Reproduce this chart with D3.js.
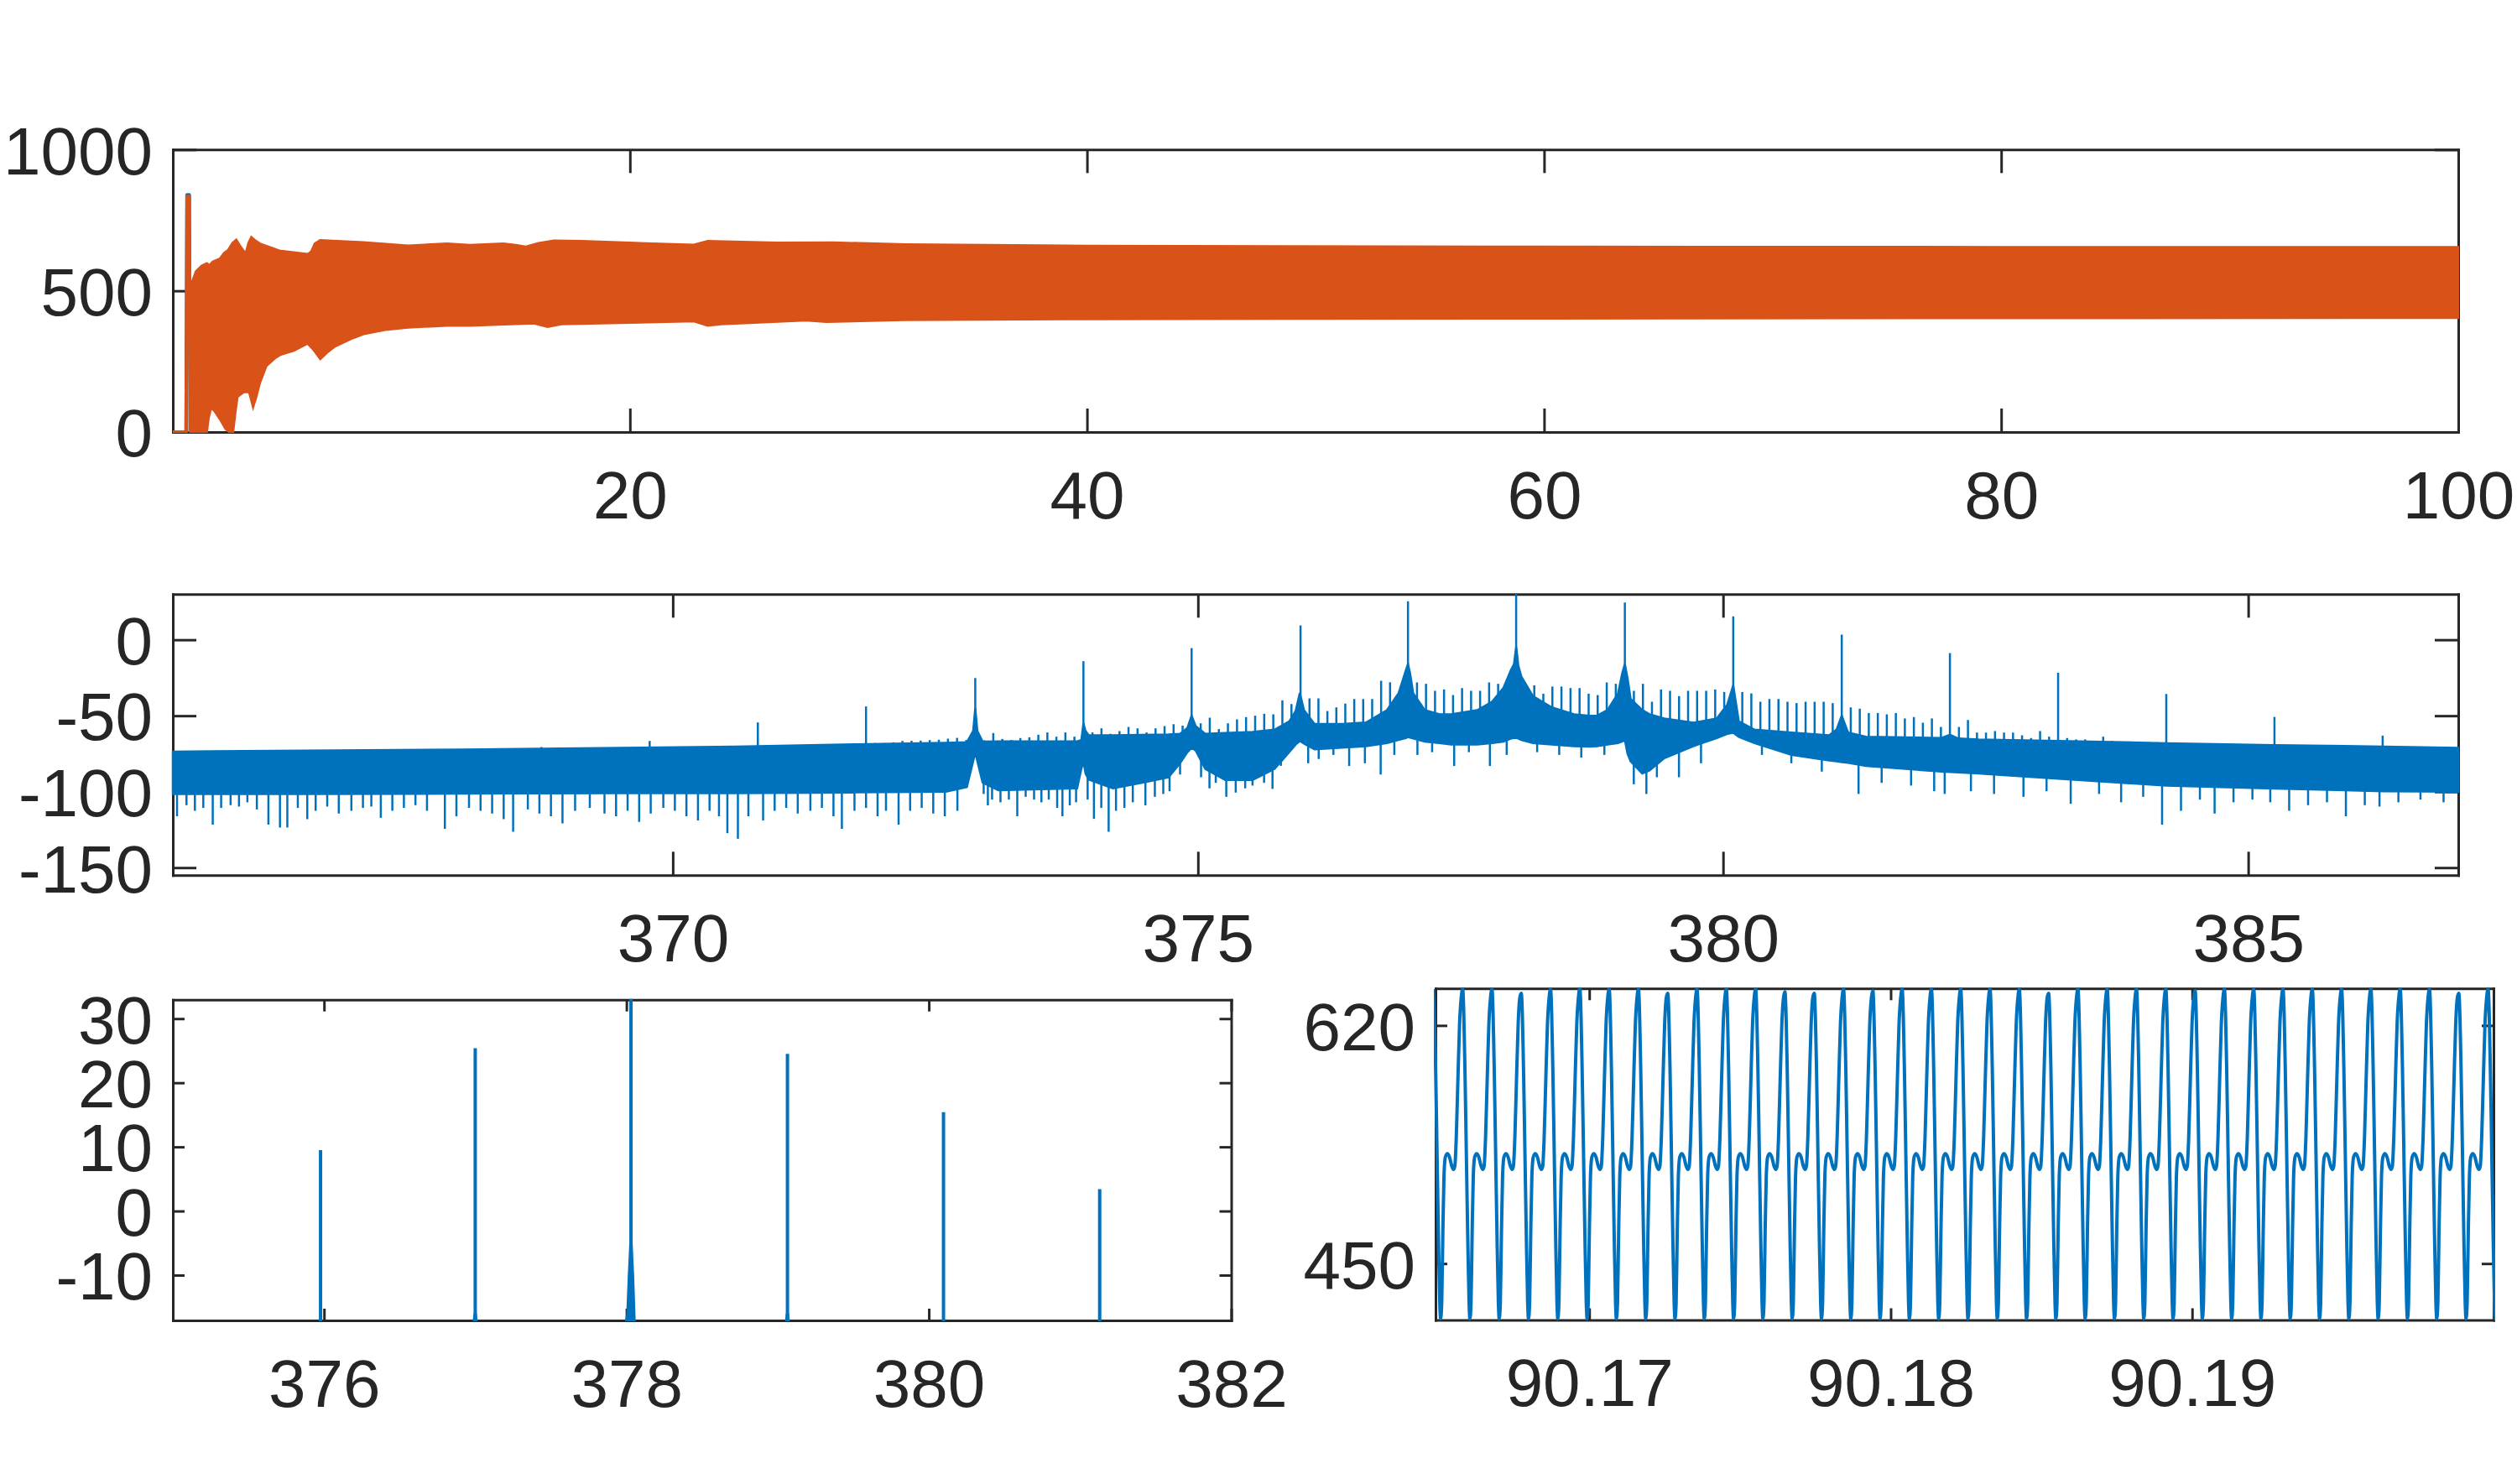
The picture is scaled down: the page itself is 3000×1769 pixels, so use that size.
<!DOCTYPE html>
<html>
<head>
<meta charset="utf-8">
<script src="https://cdn.jsdelivr.net/npm/d3@7"></script>
<style>
  body { margin: 0; background: #fff; }
  svg { display: block; }
</style>
</head>
<body>
<svg id="chart" width="3000" height="1769"></svg>
<script>
/*
**
** DATA
**
*/
const BLUE = "#0072BD";
const ORANGE = "#D95319";
const INK = "#262626";

// Panel 1 - long time record, two overlapping series
const p1XTicks = [20, 40, 60, 80, 100];
const p1YTicks = [0, 500, 1000];
const p1SpikeX = [0, 0.58, 0.62, 0.72, 0.76];
const p1SpikeBlue = [0, 0, 840, 840, 0];
const p1SpikeOrange = [0, 0, 834, 834, 0];
// envelope of the dense orange oscillation
const p1UpperX = [0.76, 0.82, 1.0, 1.25, 1.49, 1.6, 1.74, 2.04, 2.23, 2.41, 2.6, 2.78, 2.95, 3.18, 3.3, 3.43, 3.6, 3.82, 4.67, 5.9, 6.05, 6.2, 6.44, 8.34, 10.3, 12.0, 13.0, 14.46, 15.0, 15.44, 16.0, 16.67, 17.9, 19.97, 22.79, 23.4, 26.46, 28.9, 32.1, 40, 60, 80, 100];
const p1Upper = [480, 530, 569, 589, 599, 592, 604, 614, 634, 645, 670, 682, 660, 634, 670, 692, 680, 668, 643, 631, 640, 668, 680, 673, 661, 668, 663, 668, 663, 657, 670, 679, 677, 671, 664, 677, 671, 672, 665, 660, 657, 656, 655.5];
const p1LowerX = [0.76, 1.5, 1.58, 1.68, 1.8, 2.05, 2.3, 2.45, 2.65, 2.75, 2.84, 3.1, 3.33, 3.51, 3.65, 3.82, 4.1, 4.5, 4.7, 5.3, 5.9, 6.15, 6.45, 6.75, 7.1, 7.9, 8.4, 9.3, 10.3, 12.0, 13.0, 15.8, 16.4, 17.0, 20, 22.8, 23.4, 24.0, 27.7, 28.6, 32, 40, 60, 80, 100];
const p1Lower = [0, 0, 50, 84, 75, 45, 10, 0, 0, 70, 124, 140, 140, 84, 120, 173, 233, 262, 272, 287, 312, 290, 257, 280, 302, 332, 347, 361, 369, 376, 376, 384, 371, 381, 386, 391, 376, 381, 394, 389, 396, 399, 401, 402.5, 403];

// Panel 2 - spectrum (dB)
const p2XTicks = [370, 375, 380, 385];
const p2YTicks = [-150, -100, -50, 0];
// harmonic lines: position and peak level
const harmX = [368.75, 369.78, 370.81, 371.84, 372.88, 373.91, 374.94, 375.977, 377.0, 378.03, 379.065, 380.097, 381.13, 382.16, 383.19, 384.22, 385.25, 386.28];
const harmTop = [-70.6, -66.6, -54.4, -43.9, -25.2, -14.1, -5.5, 9.5, 25.4, 35, 24.5, 15.4, 3.4, -8.8, -21.7, -35.7, -50.8, -63.1];
// noise floor band: [x, upper edge, lower edge]
const p2Band = [
  [365.24, -73.6, -101.5], [366.5, -73.0, -101.5], [368.0, -72.3, -101.3], [369.5, -71.2, -101.0],
  [370.6, -70.3, -101.0], [371.75, -68.8, -100.5], [372.6, -67.8, -100.0], [372.8, -67.5, -97.0],
  [372.86, -60.0, -80.0], [372.88, -45.0, -74.0], [372.9, -60.0, -80.0], [372.95, -67.0, -94.0],
  [373.1, -66.9, -99.0], [373.85, -66.9, -97.8], [373.89, -66.0, -85.0], [373.91, -55.0, -80.0],
  [373.93, -60.0, -88.0], [373.96, -62.9, -92.0], [374.19, -62.9, -97.8], [374.46, -62.6, -94.2],
  [374.72, -62.4, -90.5], [374.83, -61.9, -81.3], [374.9, -58.0, -74.0], [374.94, -50.0, -71.2],
  [374.98, -57.0, -73.0], [375.07, -61.9, -85.0], [375.26, -61.4, -92.3], [375.52, -60.7, -92.3],
  [375.73, -59.2, -85.0], [375.87, -53.7, -73.9], [375.93, -47.0, -69.0], [375.97, -35.0, -66.6],
  [376.01, -46.3, -68.4], [376.11, -55.5, -72.1], [376.37, -55.4, -71.0], [376.6, -54.5, -70.0],
  [376.8, -46.3, -68.0], [376.91, -35.3, -66.0], [376.98, -20.0, -64.7], [377.0, -16.0, -64.0],
  [377.02, -22.0, -64.5], [377.05, -35.3, -65.0], [377.16, -46.3, -67.0], [377.3, -49.1, -68.0],
  [377.41, -49.1, -69.0], [377.66, -46.3, -69.0], [377.8, -40.8, -68.0], [377.91, -31.6, -67.0],
  [377.98, -20.0, -65.0], [378.01, -16.0, -64.7], [378.02, -10.0, -64.7], [378.03, -5.0, -64.7],
  [378.04, -10.0, -64.7], [378.05, -17.0, -65.0], [378.08, -24.3, -66.0], [378.19, -37.1, -68.0],
  [378.37, -44.5, -69.0], [378.58, -49.1, -70.0], [378.73, -50.0, -70.3], [378.8, -50.0, -70.0],
  [378.9, -46.3, -69.0], [379.0, -35.3, -68.0], [379.04, -22.0, -67.0], [379.065, -16.0, -66.0],
  [379.09, -25.0, -75.0], [379.12, -39.0, -80.0], [379.23, -46.3, -88.0], [379.3, -49.0, -86.0],
  [379.44, -51.8, -78.0], [379.72, -54.6, -70.0], [379.94, -51.8, -64.7], [380.04, -42.7, -62.0],
  [380.097, -30.0, -61.2], [380.15, -53.7, -64.0], [380.3, -59.2, -68.0], [380.65, -61.1, -75.8],
  [381.01, -62.9, -79.5], [381.08, -59.2, -80.0], [381.13, -50.0, -80.5], [381.19, -61.1, -81.0],
  [381.36, -63.8, -83.1], [382.08, -64.7, -86.8], [382.16, -62.5, -87.0], [382.24, -65.0, -87.3],
  [382.43, -65.6, -88.0], [383.19, -66.6, -91.5], [384.22, -68.1, -96.0], [385.25, -69.4, -98.0],
  [386.29, -70.3, -99.7], [387.0, -71.2, -100.0]
];
// side-band comb: 11 lines between consecutive harmonics, starting at harmX[3]
const combFirstHarm = 3;
const combTops = [
  [-68, -68, -67.5, -66.6, -66.5, -66.4, -66, -65.8, -65.1, -64.6, -66],
  [-66.2, -61.4, -65.3, -66, -64.7, -64.2, -62.5, -61, -63.8, -61, -63.8],
  [-61, -58.3, -61.9, -60.1, -57.4, -58.3, -61, -58.3, -56.8, -55.6, -56.5],
  [-55, -51.3, -58.8, -55, -52.4, -50.9, -50, -48.7, -49.1, -39.9, -42.3],
  [-38.6, -38.6, -46.9, -44.5, -42, -39, -39, -39, -27, -28, -35],
  [-28.1, -29, -33.6, -32.7, -36.4, -31.8, -33.6, -33.6, -28.1, -29, -30.8],
  [-29, -30, -35.5, -30.8, -30.8, -31.8, -31.8, -35.5, -36.4, -28.1, -29],
  [-33.6, -29, -40.8, -32.7, -33.6, -37.1, -33.6, -33.6, -33.6, -32.7, -34.4],
  [-34.4, -35.3, -40.8, -39, -39, -40.8, -41.7, -40.8, -40.8, -40.8, -41.7],
  [-44.5, -45.4, -48.2, -48.2, -49.1, -48.2, -51.8, -50.9, -54.6, -51.8, -57.4],
  [-57.4, -52.8, -61.1, -61.1, -60.1, -61.1, -61.1, -62.9, -64.7, -60.1, -63.8],
  [-64.7, -65.6, -65.6, -66.6, -63.8, -66.6, -67, -67.5, -67, -67.5, -67.5]
];
// downward noise spikes below the floor: [x, level]
const p2Drops = [
  [365.28, -116.2], [365.37, -108.9], [365.45, -112.6], [365.53, -110.7], [365.62, -121.7], [365.70, -110.7],
  [365.79, -108.9], [365.87, -109.8], [365.95, -107.0], [366.04, -111.7], [366.15, -121.7], [366.26, -123.6],
  [366.33, -123.6], [366.43, -110.7], [366.52, -118.1], [366.60, -112.6], [366.71, -109.8], [366.82, -114.4],
  [366.94, -112.6], [367.05, -110.7], [367.13, -109.8], [367.22, -117.2], [367.33, -112.6], [367.44, -110.7],
  [367.55, -108.9], [367.66, -112.6], [367.83, -124.5], [367.94, -116.2], [368.06, -110.7], [368.17, -112.6],
  [368.28, -114.4], [368.39, -118.1], [368.48, -126.4], [368.62, -111.7], [368.73, -114.4], [368.84, -116.2],
  [368.95, -120.9], [369.07, -112.6], [369.21, -110.7], [369.35, -114.4], [369.46, -116.2], [369.57, -112.6],
  [369.68, -119.9], [369.79, -114.4], [369.91, -110.7], [370.02, -112.6], [370.13, -116.2], [370.24, -119.0],
  [370.35, -112.6], [370.44, -116.2], [370.52, -127.3], [370.62, -131.0], [370.72, -116.2], [370.86, -119.0],
  [370.97, -112.6], [371.08, -110.7], [371.19, -114.4], [371.31, -112.6], [371.42, -110.7], [371.53, -116.2],
  [371.61, -124.5], [371.73, -112.6], [371.84, -110.7], [371.95, -116.2], [372.03, -112.6], [372.15, -121.7],
  [372.26, -112.6], [372.37, -110.7], [372.48, -114.4], [372.59, -116.2], [372.71, -112.6],
  [372.96, -101.5], [373.00, -109.0], [373.04, -105.2], [373.12, -107.0], [373.20, -105.2], [373.28, -116.2],
  [373.36, -103.4], [373.44, -105.2], [373.51, -107.0], [373.58, -105.2], [373.66, -110.7], [373.71, -116.2],
  [373.78, -109.0], [373.84, -107.0], [373.95, -105.2], [374.01, -117.9], [374.08, -110.7], [374.15, -126.4],
  [374.22, -112.6], [374.30, -110.7], [374.38, -107.0], [374.50, -109.0], [374.59, -103.4], [374.67, -101.5],
  [374.73, -99.7], [374.83, -88.7], [375.03, -90.5], [375.11, -97.8], [375.17, -94.2], [375.27, -103.4],
  [375.36, -100.6], [375.45, -97.8], [375.52, -96.0], [375.63, -94.2], [375.71, -98.2], [375.79, -83.0],
  [376.05, -81.3], [376.15, -78.5], [376.29, -75.8],
  [376.44, -83.1], [376.59, -81.3], [376.74, -88.7], [376.87, -75.8], [377.09, -75.8], [377.23, -74.0],
  [377.44, -83.1], [377.58, -74.0], [377.78, -83.1], [377.94, -75.8], [378.23, -74.0], [378.44, -75.8],
  [378.65, -77.6], [378.87, -75.8], [379.15, -95.1], [379.27, -101.5], [379.37, -90.5], [379.58, -90.5],
  [379.79, -81.3], [380.37, -75.8], [380.65, -81.3], [380.94, -86.8], [381.29, -101.5], [381.51, -94.2],
  [381.79, -96.0], [382.01, -99.7], [382.11, -101.5], [382.36, -99.7], [382.58, -101.5], [382.86, -103.4],
  [383.08, -99.7], [383.31, -108.0], [383.58, -101.5], [383.79, -107.0], [384.00, -103.4], [384.18, -121.7],
  [384.36, -112.6], [384.54, -105.2], [384.68, -114.4], [384.86, -107.0], [385.04, -105.2], [385.21, -107.0],
  [385.39, -112.6], [385.57, -108.9], [385.75, -107.0], [385.93, -116.2], [386.11, -108.9], [386.25, -109.8],
  [386.43, -107.0], [386.64, -105.2], [386.86, -107.0]
];

// Panel 3 - zoom on the harmonic peaks of the same spectrum
const p3XTicks = [376, 378, 380, 382];
const p3YTicks = [-10, 0, 10, 20, 30];

// Panel 4 - short stretch of the time signal
const p4XTicks = [90.17, 90.18, 90.19];
const p4YTicks = [450, 620];
const p4Period = 0.000972;
const p4FirstPeak = 90.1658;
// one cycle, phase 0 = peak
const p4CyclePhase = [0, 0.076, 0.124, 0.171, 0.219, 0.248, 0.286, 0.324, 0.362, 0.41, 0.476, 0.552, 0.629, 0.686, 0.733, 0.781, 0.838, 0.895, 0.952];
const p4CycleValue = [null, 591, 531, 472, 422, 410.6, 422, 472, 512, 526, 528.5, 526, 519.6, 517.2, 519.6, 539.5, 581.4, 621.3, 640];
// height of each of the 36 peaks
const p4Peaks = [646, 646, 643, 646, 646.5, 646, 646, 643, 646, 646, 646, 644, 643, 646, 645, 646, 646, 646,
                 646, 646, 643, 646, 646, 646, 646, 645, 646, 646, 646, 646, 646, 646, 646, 646, 643, 646];

/*
**
** LAYOUT
**
*/
const svg = d3.select("#chart");
const FONT = '"Liberation Sans", Arial, Helvetica, sans-serif';

const p1x = d3.scaleLinear().domain([0, 100]).range([206, 2930]);
const p1y = d3.scaleLinear().domain([0, 1000]).range([515, 178.3]);
const p2x = d3.scaleLinear().domain([365.24, 387]).range([206, 2930]);
const p2y = d3.scaleLinear().domain([-155, 30]).range([1043.3, 708.3]);
const p3x = d3.scaleLinear().domain([375, 382]).range([206, 1467.5]);
const p3y = d3.scaleLinear().domain([-17.06, 32.95]).range([1574, 1191.7]);
const p4x = d3.scaleLinear().domain([90.1649, 90.2]).range([1711, 2972]);
const p4y = d3.scaleLinear().domain([409.7, 646.4]).range([1573.5, 1178.3]);

/*
**
** AXES
**
*/
// Box with inward ticks on all four sides, labels on bottom and left
function drawFrame(name, x, y, xTicks, yTicks, tickLen) {
  const [xl, xr] = x.range();
  const [yb, yt] = y.range();
  const fmt = d => String(d);
  const blank = () => "";
  let g = svg.append("g").attr("class", "frame-" + name);

  let axes = [
    { gen: d3.axisBottom(x).tickValues(xTicks).tickFormat(fmt).tickPadding(46), t: `translate(0,${yb})` },
    { gen: d3.axisTop(x).tickValues(xTicks).tickFormat(blank).tickPadding(0), t: `translate(0,${yt})` },
    { gen: d3.axisLeft(y).tickValues(yTicks).tickFormat(fmt).tickPadding(24), t: `translate(${xl},0)` },
    { gen: d3.axisRight(y).tickValues(yTicks).tickFormat(blank).tickPadding(0), t: `translate(${xr},0)` }
  ];
  axes.forEach(a => {
    let ag = g.append("g")
      .attr("transform", a.t)
      .call(a.gen.tickSizeInner(-tickLen).tickSizeOuter(0));
    ag.attr("font-size", 80).attr("font-family", FONT).attr("color", INK);
    ag.select(".domain").attr("stroke-width", 3).attr("stroke-linecap", "square");
    ag.selectAll(".tick line").attr("stroke-width", 3);
  });
  // vertical centring of the y labels
  g.selectAll("text").filter(function () { return this.getAttribute("dy") === "0.32em"; }).attr("dy", "0.36em");
}

function clipFor(name, x, y) {
  const [xl, xr] = x.range();
  const [yb, yt] = y.range();
  svg.append("clipPath").attr("id", "clip-" + name)
    .append("rect")
      .attr("x", xl - 2).attr("y", yt - 1)
      .attr("width", xr - xl + 4).attr("height", yb - yt + 2);
  return svg.append("g").attr("clip-path", `url(#clip-${name})`);
}

/*
**
** PANEL 1
**
*/
function drawPanel1() {
  drawFrame("p1", p1x, p1y, p1XTicks, p1YTicks, 28);
  let g = clipFor("p1", p1x, p1y);
  let line = d3.line().x(d => p1x(d[0])).y(d => p1y(d[1]));

  g.append("path")
    .attr("d", line(p1SpikeX.map((v, i) => [v, p1SpikeBlue[i]])))
    .attr("fill", "none").attr("stroke", BLUE).attr("stroke-width", 4).attr("stroke-linejoin", "round");

  g.append("path")
    .attr("d", line(p1SpikeX.map((v, i) => [v, p1SpikeOrange[i]])))
    .attr("fill", "none").attr("stroke", ORANGE).attr("stroke-width", 4).attr("stroke-linejoin", "round");

  // envelope polygon: upper edge left->right, lower edge right->left
  let poly = p1UpperX.map((v, i) => [v, p1Upper[i]])
    .concat(p1LowerX.map((v, i) => [v, p1Lower[i]]).reverse());
  g.append("path")
    .attr("d", line(poly) + "Z")
    .attr("fill", ORANGE).attr("stroke", ORANGE).attr("stroke-width", 2);
}

/*
**
** SPECTRUM (panels 2 and 3)
**
*/
function drawSpectrum(g, x, y, width) {
  const bx = p2Band.map(d => d[0]);
  const upAt = d3.scaleLinear().domain(bx).range(p2Band.map(d => d[1]));
  const loAt = d3.scaleLinear().domain(bx).range(p2Band.map(d => d[2]));

  let area = d3.area()
    .x(d => x(d[0]))
    .y0(d => y(d[2]))
    .y1(d => y(d[1]));
  g.append("path")
    .attr("d", area(p2Band))
    .attr("fill", BLUE).attr("stroke", BLUE).attr("stroke-width", width);

  // side-band comb above the floor
  let comb = [];
  combTops.forEach((row, i) => {
    const h0 = harmX[combFirstHarm + i];
    const h1 = harmX[combFirstHarm + i + 1];
    row.forEach((top, k) => {
      const cx = h0 + (k + 1) * (h1 - h0) / 12;
      comb.push([cx, upAt(cx), top]);
    });
  });
  // noise spikes below the floor
  let drops = p2Drops.map(d => [d[0], loAt(d[0]), d[1]]);
  // harmonics, from inside the band up to the peak
  let harms = harmX.map((hx, i) => [hx, loAt(hx), harmTop[i]]);

  g.selectAll(null)
    .data(comb.concat(drops, harms))
    .enter()
    .append("line")
      .attr("x1", d => x(d[0])).attr("x2", d => x(d[0]))
      .attr("y1", d => y(d[1])).attr("y2", d => y(d[2]))
      .attr("stroke", BLUE).attr("stroke-width", width);
}

function drawPanel2() {
  drawFrame("p2", p2x, p2y, p2XTicks, p2YTicks, 28);
  let g = clipFor("p2", p2x, p2y);
  drawSpectrum(g, p2x, p2y, 2.5);
}

function drawPanel3() {
  drawFrame("p3", p3x, p3y, p3XTicks, p3YTicks, 14);
  let g = clipFor("p3", p3x, p3y);
  drawSpectrum(g, p3x, p3y, 4);
}

/*
**
** PANEL 4
**
*/
function drawPanel4() {
  drawFrame("p4", p4x, p4y, p4XTicks, p4YTicks, 14);
  let g = clipFor("p4", p4x, p4y);

  // lay the read cycle out at each peak
  let pts = [];
  for (let c = -1; c <= p4Peaks.length; c++) {
    const peak = p4Peaks[c] !== undefined ? p4Peaks[c] : 646;
    p4CyclePhase.forEach((ph, i) => {
      pts.push([p4FirstPeak + (c + ph) * p4Period, i === 0 ? peak : p4CycleValue[i]]);
    });
  }
  let line = d3.line()
    .x(d => p4x(d[0]))
    .y(d => p4y(d[1]))
    .curve(d3.curveMonotoneX);
  g.append("path")
    .attr("d", line(pts))
    .attr("fill", "none").attr("stroke", BLUE).attr("stroke-width", 4).attr("stroke-linejoin", "round");
}

drawPanel1();
drawPanel2();
drawPanel3();
drawPanel4();
</script>
</body>
</html>
